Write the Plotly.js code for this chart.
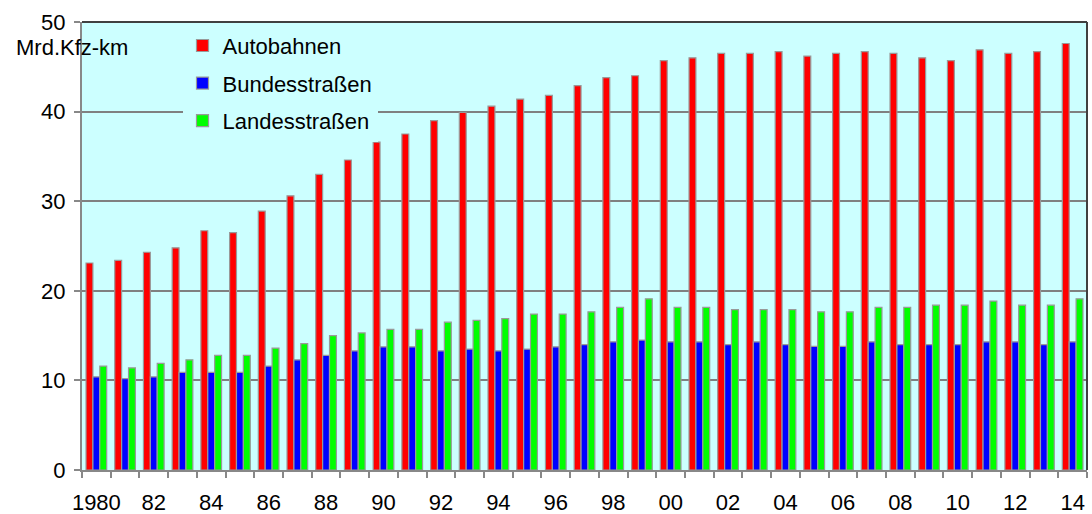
<!DOCTYPE html>
<html>
<head>
<meta charset="utf-8">
<script src="https://cdn.plot.ly/plotly-3.0.1.min.js"></script>
<style>
  html, body { margin: 0; padding: 0; background: #fff; }
  #chart { width: 1092px; height: 514px; }
</style>
</head>
<body>
<div id="chart"></div>
<script>
var years = ['1980','1981','1982','1983','1984','1985','1986','1987','1988','1989',
  '1990','1991','1992','1993','1994','1995','1996','1997','1998','1999',
  '2000','2001','2002','2003','2004','2005','2006','2007','2008','2009',
  '2010','2011','2012','2013','2014'];

var yearLabels = ['1980','','82','','84','','86','','88','',
  '90','','92','','94','','96','','98','',
  '00','','02','','04','','06','','08','',
  '10','','12','','14'];

var autobahnen = [23.1, 23.4, 24.3, 24.8, 26.7, 26.5, 28.9, 30.6, 33.0, 34.6,
  36.6, 37.5, 39.0, 39.9, 40.6, 41.4, 41.8, 42.9, 43.8, 44.0,
  45.7, 46.0, 46.5, 46.5, 46.7, 46.2, 46.5, 46.7, 46.5, 46.0,
  45.7, 46.9, 46.5, 46.7, 47.6];

var bundesstrassen = [10.4, 10.2, 10.4, 10.9, 10.9, 10.9, 11.6, 12.3, 12.8, 13.3,
  13.75, 13.75, 13.3, 13.5, 13.3, 13.5, 13.75, 14.0, 14.3, 14.5,
  14.3, 14.3, 14.0, 14.3, 14.0, 13.8, 13.8, 14.3, 14.0, 14.0,
  14.0, 14.3, 14.3, 14.0, 14.3];

var landesstrassen = [11.6, 11.4, 11.9, 12.3, 12.8, 12.8, 13.6, 14.1, 15.0, 15.3,
  15.7, 15.7, 16.5, 16.7, 16.9, 17.4, 17.4, 17.65, 18.15, 19.1,
  18.15, 18.15, 17.9, 17.9, 17.9, 17.65, 17.65, 18.15, 18.15, 18.4,
  18.4, 18.85, 18.4, 18.4, 19.1];

var seriesNames = ['Autobahnen', 'Bundesstraßen', 'Landesstraßen'];
var seriesColors = ['#ff0000', '#0000ff', '#00ff00'];
var seriesValues = [autobahnen, bundesstrassen, landesstrassen];

var traces = [];
for (var i = 0; i < seriesNames.length; i++) {
  traces.push({
    type: 'bar',
    x: years,
    y: seriesValues[i],
    name: seriesNames[i],
    legendgroup: 'g' + i,
    marker: { color: seriesColors[i], line: { color: '#999999', width: 1.2 } },
    hovertemplate: '%{x}: %{y}<extra></extra>'
  });
}

var font = { family: 'Liberation Sans, Arial, sans-serif', size: 22, color: '#000' };

var layout = {
  width: 1092,
  height: 514,
  margin: { l: 82, r: 5, t: 22, b: 44 },
  paper_bgcolor: '#ffffff',
  plot_bgcolor: '#ccffff',
  font: font,
  barmode: 'group',
  bargap: 0.28,
  bargroupgap: 0,
  xaxis: {
    type: 'category',
    tickmode: 'array',
    tickvals: years,
    ticktext: yearLabels,
    tickson: 'boundaries',
    ticks: 'outside',
    ticklen: 6,
    tickcolor: '#888888',
    tickwidth: 2,
    ticklabelstandoff: 12,
    showline: true,
    linecolor: '#888888',
    linewidth: 2,
    showgrid: false,
    tickangle: 0,
    tickfont: font
  },
  yaxis: {
    range: [0, 50],
    dtick: 10,
    ticks: 'outside',
    ticklen: 6,
    tickcolor: '#888888',
    tickwidth: 2,
    ticklabelstandoff: 4,
    showline: true,
    linecolor: '#888888',
    linewidth: 2,
    showgrid: true,
    gridcolor: '#808080',
    gridwidth: 1.5,
    zeroline: false,
    tickfont: font
  },
  showlegend: true,
  legend: {
    x: 0.1,
    xanchor: 'left',
    y: 0.994,
    yanchor: 'top',
    bgcolor: '#ccffff',
    borderwidth: 0,
    font: font,
    tracegroupgap: 6
  },
  annotations: [{
    text: 'Mrd.Kfz-km',
    xref: 'paper',
    yref: 'paper',
    x: 0.048,
    y: 0.944,
    xanchor: 'right',
    yanchor: 'middle',
    showarrow: false,
    font: font
  }],
  shapes: [
    { type: 'line', xref: 'paper', yref: 'paper', x0: 0, x1: 1, y0: 1, y1: 1,
      line: { color: '#404040', width: 2 } },
    { type: 'line', xref: 'paper', yref: 'paper', x0: 1, x1: 1, y0: 0, y1: 1,
      line: { color: '#404040', width: 2 } }
  ]
};

Plotly.newPlot('chart', traces, layout, { displayModeBar: false });
</script>
</body>
</html>
